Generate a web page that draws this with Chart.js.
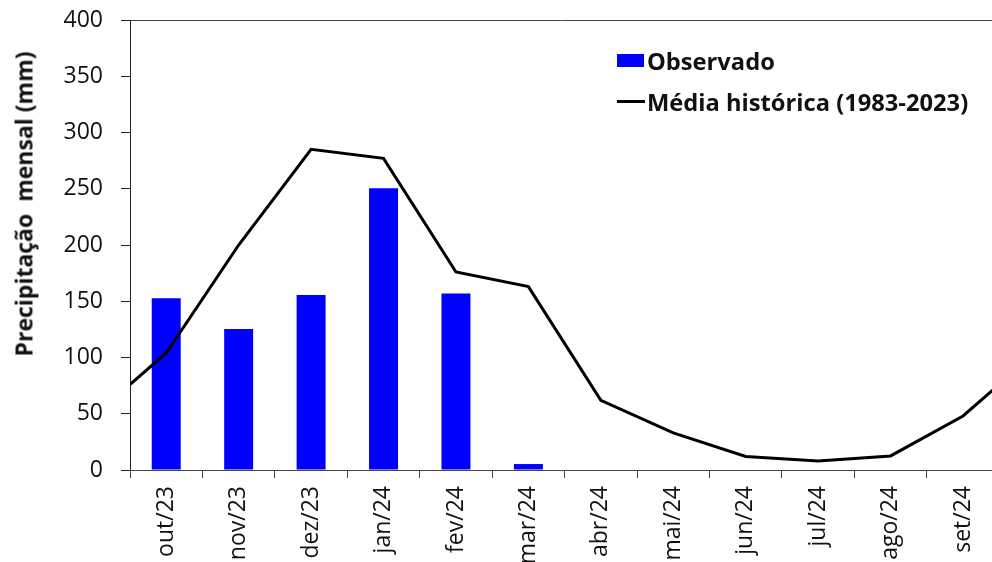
<!DOCTYPE html>
<html>
<head>
<meta charset="utf-8">
<script src="https://cdn.jsdelivr.net/npm/chart.js@4.4.1/dist/chart.umd.min.js"></script>
<style>
    html, body { margin: 0; padding: 0; background: #fff; }
    #wrap { position: relative; width: 992px; height: 562px; }
    #legend {
        position: absolute; left: 617px; top: 40px;
        font-family: "Open Sans", sans-serif; font-weight: bold; font-size: 23.7px; color: #111;
    }
    .item { display: flex; align-items: center; height: 41px; }
    .box { width: 27px; height: 13px; background: #0000FF; margin-right: 3px; }
    .ln { width: 28px; height: 3px; background: #000; margin-right: 2px; }
    #ytitle {
        position: absolute; left: 24px; top: 204px;
        transform: translate(-50%, -50%) rotate(-90deg);
        font-family: "Open Sans", sans-serif; font-weight: bold; font-size: 23px; color: #111;
        white-space: pre; line-height: 23px;
    }
</style>
</head>
<body>
<div id="wrap">
    <canvas id="chart" width="992" height="562"></canvas>
    <div id="legend"></div>
    <div id="ytitle"></div>
</div>
<script>
// Données
const months = ['out/23', 'nov/23', 'dez/23', 'jan/24', 'fev/24', 'mar/24',
                'abr/24', 'mai/24', 'jun/24', 'jul/24', 'ago/24', 'set/24'];
const observado = [152.6, 125.3, 155.5, 250.4, 157, 5.3, null, null, null, null, null, null];
const mediaHistorica = [104, 200, 285, 277, 176, 163, 62, 33, 12, 8, 12.5, 48];
const yTicks = [0, 50, 100, 150, 200, 250, 300, 350, 400];

const labelObs = 'Observado';
const labelMedia = 'Média histórica (1983-2023)';
const yTitle = 'Precipitação  mensal (mm)';

// Série climatologique : on boucle sur le mois précédent / suivant (coupé par le cadre)
const lineData = [{ x: -1, y: mediaHistorica[mediaHistorica.length - 1] }]
    .concat(mediaHistorica.map((v, i) => ({ x: i, y: v })))
    .concat([{ x: months.length, y: mediaHistorica[0] }]);
const barData = observado.map((v, i) => ({ x: i, y: v }));

const font = '"Open Sans", sans-serif';

// Légende et titre de l'axe en HTML
document.getElementById('legend').innerHTML =
    '<div class="item"><span class="box"></span><span>' + labelObs + '</span></div>' +
    '<div class="item"><span class="ln"></span><span>' + labelMedia + '</span></div>';
document.getElementById('ytitle').textContent = yTitle;

new Chart(document.getElementById('chart'), {
    data: {
        datasets: [{
            type: 'line',
            label: labelMedia,
            data: lineData,
            borderColor: '#000000',
            borderWidth: 3,
            pointRadius: 0,
            tension: 0,
            order: 0
        }, {
            type: 'bar',
            label: labelObs,
            data: barData,
            backgroundColor: '#0000FF',
            barPercentage: 0.8,
            categoryPercentage: 1,
            order: 1
        }]
    },
    options: {
        responsive: false,
        animation: false,
        layout: { padding: { top: 20, right: 0, left: 0, bottom: 0 } },
        plugins: {
            legend: { display: false },
            tooltip: { enabled: false }
        },
        scales: {
            x: {
                type: 'linear',
                offset: false,
                min: -0.5,
                max: 11.4,
                afterBuildTicks: function(scale) {
                    const t = [];
                    for (let i = 0; i <= months.length * 2 - 1; i++) {
                        t.push({ value: -0.5 + i * 0.5 });
                    }
                    scale.ticks = t.filter(tk => tk.value <= 11.4);
                },
                afterFit: function(scale) {
                    scale.height = 92;
                    scale.paddingLeft = 0;
                    scale.paddingRight = 0;
                },
                border: { display: true, color: '#444', width: 1 },
                grid: {
                    offset: false,
                    drawOnChartArea: false,
                    drawTicks: true,
                    tickLength: 8,
                    tickColor: function(ctx) {
                        return (ctx.tick && Number.isInteger(ctx.tick.value)) ? 'transparent' : '#444';
                    }
                },
                ticks: {
                    autoSkip: false,
                    maxRotation: 90,
                    minRotation: 90,
                    padding: 8,
                    color: '#111',
                    font: { family: font, size: 23 },
                    callback: function(value) {
                        return Number.isInteger(value) ? months[value] : '';
                    }
                }
            },
            y: {
                min: 0,
                max: 400,
                afterBuildTicks: function(scale) {
                    scale.ticks = yTicks.map(v => ({ value: v }));
                },
                afterFit: function(scale) {
                    scale.width = 130;
                    scale.paddingTop = 0;
                    scale.paddingBottom = 0;
                },
                border: { display: true, color: '#222', width: 1 },
                grid: {
                    drawOnChartArea: true,
                    drawTicks: true,
                    tickLength: 9,
                    tickColor: '#222',
                    color: function(ctx) {
                        return (ctx.tick && ctx.tick.value === 400) ? '#444' : 'transparent';
                    }
                },
                ticks: {
                    padding: 18,
                    color: '#111',
                    font: { family: font, size: 23 }
                }
            }
        }
    }
});
</script>
</body>
</html>
